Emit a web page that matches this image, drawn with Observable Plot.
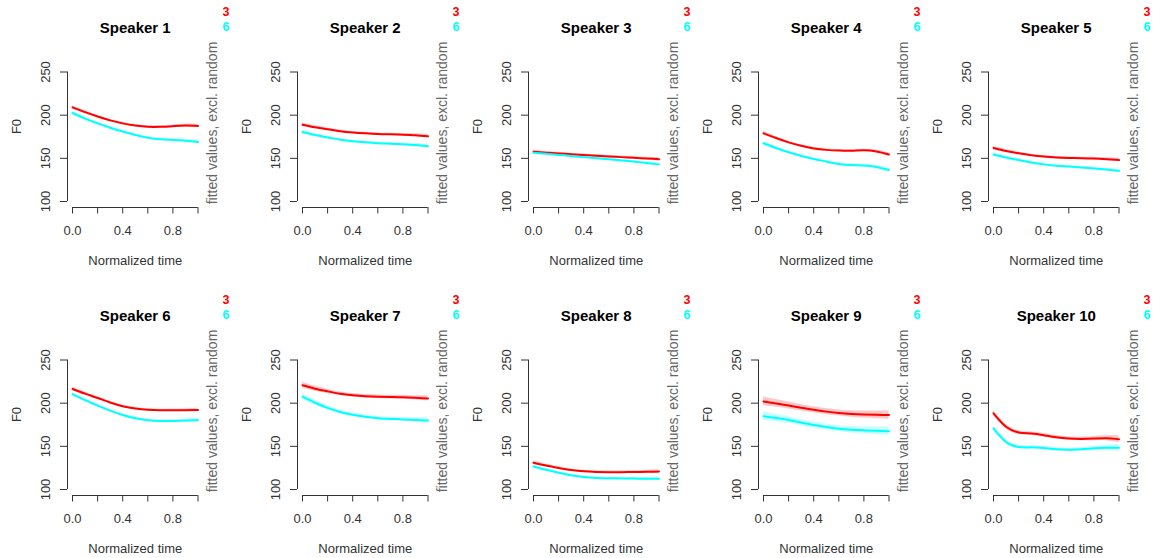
<!DOCTYPE html>
<html>
<head>
<meta charset="utf-8">
<script src="https://cdn.jsdelivr.net/npm/d3@7"></script>
<script src="https://cdn.jsdelivr.net/npm/@observablehq/plot@0.6"></script>
<style>
  html, body { margin: 0; padding: 0; background: #fff; }
  #wrap { position: relative; width: 1156px; height: 558px; overflow: hidden; background: #fff; }
  .panel { position: absolute; }
</style>
</head>
<body>
<div id="wrap"></div>
<script>
// ---- data ----
const speakers = ["Speaker 1","Speaker 2","Speaker 3","Speaker 4","Speaker 5","Speaker 6","Speaker 7","Speaker 8","Speaker 9","Speaker 10"];
const time = [0, 0.1, 0.2, 0.3, 0.4, 0.5, 0.6, 0.7, 0.8, 0.9, 1.0];
const groups = ["3", "6"];
const xTicks = [0, 0.2, 0.4, 0.6, 0.8, 1.0];
const xTickLabels = [0, 0.4, 0.8];
const yTicks = [100, 150, 200, 250];

// fitted F0, group "3" (red)
const fit3 = [
  [209, 203.5, 198.5, 194, 190.5, 188, 186.5, 186.5, 187.3, 188, 187.5],
  [189, 186, 183.8, 181.5, 180, 179, 178.2, 177.8, 177.4, 176.8, 175.5],
  [157.5, 156.6, 155.7, 154.8, 153.9, 153, 152.2, 151.4, 150.6, 149.8, 149],
  [179, 173.5, 168.5, 164.5, 161.5, 159.8, 159, 158.8, 159.3, 158, 154.5],
  [162, 158.5, 155.8, 153.6, 152, 151, 150.5, 150.2, 149.8, 149, 148],
  [216.5, 211, 206, 200.8, 196.5, 193.8, 192.3, 191.8, 191.8, 191.9, 192.2],
  [220.7, 216.8, 213.7, 211, 209.2, 208, 207.4, 207.1, 206.8, 206.2, 205.5],
  [130.9, 127.7, 125, 122.6, 121, 120.3, 120.1, 120.1, 120.3, 120.5, 120.8],
  [202, 199.7, 197.3, 194.7, 192.3, 190.2, 188.5, 187.4, 186.8, 186.5, 186.3],
  [188.3, 172.7, 166, 164.8, 162.9, 160.5, 159, 158.6, 159, 159.4, 158.2]
];
// fitted F0, group "6" (cyan)
const fit6 = [
  [202.5, 196, 190.5, 185.5, 181, 177, 173.8, 172, 171.3, 170.5, 169],
  [180.5, 177, 174.2, 171.6, 169.8, 168.5, 167.5, 167, 166.4, 165.5, 164],
  [156.5, 155.3, 154, 152.7, 151.4, 150.2, 149, 147.6, 146.2, 144.6, 143],
  [167.5, 162, 157, 152.8, 149.3, 146.3, 143.5, 142.2, 141.8, 140, 136.5],
  [154.5, 151, 148, 145.2, 143, 141.5, 140.5, 139.5, 138.3, 137, 135.5],
  [210.5, 203.5, 197.3, 191.3, 186.3, 182.5, 180.3, 179.4, 179.4, 179.8, 180.5],
  [207.5, 200.5, 194.5, 189.8, 186.5, 184.2, 182.6, 181.8, 181.2, 180.6, 180],
  [126.6, 122.8, 119.5, 116.5, 114.4, 113.4, 113, 112.8, 112.6, 112.5, 112.5],
  [184.8, 182.8, 180.5, 177.5, 174.7, 172.3, 170.4, 169.2, 168.5, 168, 167.6],
  [170.7, 155, 149.2, 148.8, 148, 146.5, 146, 146.5, 147.7, 148.4, 148.4]
];
// confidence band half-widths
const ci3 = [
  [2, 1.6, 1.3, 1.2, 1.2, 1.2, 1.2, 1.2, 1.3, 1.6, 2],
  [2, 1.6, 1.3, 1.2, 1.2, 1.2, 1.2, 1.2, 1.3, 1.6, 2],
  [2, 1.6, 1.3, 1.2, 1.2, 1.2, 1.2, 1.2, 1.3, 1.6, 2],
  [2, 1.6, 1.3, 1.2, 1.2, 1.2, 1.2, 1.2, 1.3, 1.6, 2],
  [2, 1.6, 1.3, 1.2, 1.2, 1.2, 1.2, 1.2, 1.3, 1.6, 2],
  [2, 1.6, 1.3, 1.2, 1.2, 1.2, 1.2, 1.2, 1.3, 1.6, 2],
  [3.5, 3, 2.5, 2, 2, 2, 2, 2, 2.2, 2.5, 3],
  [2, 1.6, 1.3, 1.2, 1.2, 1.2, 1.2, 1.2, 1.3, 1.6, 2],
  [5, 4.5, 4, 3.7, 3.5, 3.5, 3.5, 3.7, 4, 4.5, 5],
  [3, 2.5, 2, 2, 2, 2, 2, 2.2, 2.5, 3, 4]
];
const ci6 = [
  [2, 1.6, 1.3, 1.2, 1.2, 1.2, 1.2, 1.2, 1.3, 1.6, 2],
  [2, 1.6, 1.3, 1.2, 1.2, 1.2, 1.2, 1.2, 1.3, 1.6, 2],
  [2, 1.6, 1.3, 1.2, 1.2, 1.2, 1.2, 1.2, 1.3, 1.6, 2],
  [2, 1.6, 1.3, 1.2, 1.2, 1.2, 1.2, 1.2, 1.3, 1.6, 2],
  [2, 1.6, 1.3, 1.2, 1.2, 1.2, 1.2, 1.2, 1.3, 1.6, 2],
  [2, 1.6, 1.3, 1.2, 1.2, 1.2, 1.2, 1.2, 1.3, 1.6, 2],
  [3.5, 3, 2.5, 2, 2, 2, 2, 2, 2.2, 2.5, 3],
  [2, 1.6, 1.3, 1.2, 1.2, 1.2, 1.2, 1.2, 1.3, 1.6, 2],
  [5, 4.5, 4, 3.7, 3.5, 3.5, 3.5, 3.7, 4, 4.5, 5],
  [3, 2.5, 2, 2, 2, 2, 2, 2.2, 2.5, 3, 4]
];
const colors = {"3": "#ff0000", "6": "#00ffff"};

// ---- layout (px, local to each panel) ----
const PW = 231, PH = 270;
const X0 = 72, X1 = 197.5, Y250 = 71.5, Y100 = 201;
const colStep = 230.25, rowStep = 287.5;
const xd = px => (px - X0) / (X1 - X0);
const yd = px => 250 - (px - Y250) * 150 / (Y100 - Y250);
const font = "'Liberation Sans', Arial, Helvetica, sans-serif";
const axisCol = "#333";

const wrap = document.getElementById("wrap");

speakers.forEach((name, i) => {
  const rows = [];
  groups.forEach(g => {
    const f = g === "3" ? fit3[i] : fit6[i];
    const c = g === "3" ? ci3[i] : ci6[i];
    time.forEach((t, k) => rows.push({g, t, f: f[k], lo: f[k] - c[k], hi: f[k] + c[k]}));
  });

  const marks = [];
  groups.forEach(g => {
    const d = rows.filter(r => r.g === g);
    marks.push(Plot.areaY(d, {x: "t", y1: "lo", y2: "hi", fill: colors[g], fillOpacity: 0.22, curve: "natural"}));
  });
  groups.forEach(g => {
    const d = rows.filter(r => r.g === g);
    marks.push(Plot.line(d, {x: "t", y: "f", stroke: colors[g], strokeWidth: 2, curve: "natural"}));
  });

  // y axis
  marks.push(Plot.ruleX([xd(67)], {y1: 100, y2: 250, stroke: axisCol, strokeWidth: 1}));
  marks.push(Plot.ruleY(yTicks, {y: d => d, x1: xd(67), x2: xd(60), stroke: axisCol, strokeWidth: 1}));
  marks.push(Plot.text(yTicks, {x: xd(45), y: d => d, text: d => String(d), rotate: -90, fontSize: 13, fill: axisCol}));
  // x axis
  marks.push(Plot.ruleY([yd(207)], {x1: 0, x2: 1, stroke: axisCol, strokeWidth: 1}));
  marks.push(Plot.ruleX(xTicks, {x: d => d, y1: yd(207), y2: yd(213.5), stroke: axisCol, strokeWidth: 1}));
  marks.push(Plot.text(xTickLabels, {x: d => d, y: yd(230), text: d => d.toFixed(1), fontSize: 13, fill: axisCol}));
  // axis titles
  marks.push(Plot.text(["Normalized time"], {x: 0.5, y: yd(260), text: d => d, fontSize: 13, fill: axisCol}));
  marks.push(Plot.text(["F0"], {x: xd(16), y: yd(126), text: d => d, rotate: -90, fontSize: 13, fill: axisCol}));
  marks.push(Plot.text(["fitted values, excl. random"], {x: xd(212), y: yd(122.5), text: d => d, rotate: -90, fontSize: 14, fill: "#666"}));
  // title
  marks.push(Plot.text([name], {x: 0.5, y: yd(28), text: d => d, fontSize: 15, fontWeight: "bold", fill: "#000"}));
  // legend
  marks.push(Plot.text([groups[0]], {x: xd(229), y: yd(11), text: d => d, textAnchor: "end", fontSize: 12.5, fontWeight: "bold", fill: colors["3"]}));
  marks.push(Plot.text([groups[1]], {x: xd(229), y: yd(26.5), text: d => d, textAnchor: "end", fontSize: 12.5, fontWeight: "bold", fill: colors["6"]}));

  const svg = Plot.plot({
    width: PW, height: PH,
    marginLeft: X0, marginRight: PW - X1, marginTop: Y250, marginBottom: PH - Y100,
    x: {domain: [0, 1], axis: null},
    y: {domain: [100, 250], axis: null},
    style: {fontFamily: font, background: "transparent", overflow: "visible"},
    marks
  });
  const div = document.createElement("div");
  div.className = "panel";
  div.style.left = (Math.floor(i % 5) * colStep) + "px";
  div.style.top = (Math.floor(i / 5) * rowStep) + "px";
  div.appendChild(svg);
  wrap.appendChild(div);
});
</script>
</body>
</html>
